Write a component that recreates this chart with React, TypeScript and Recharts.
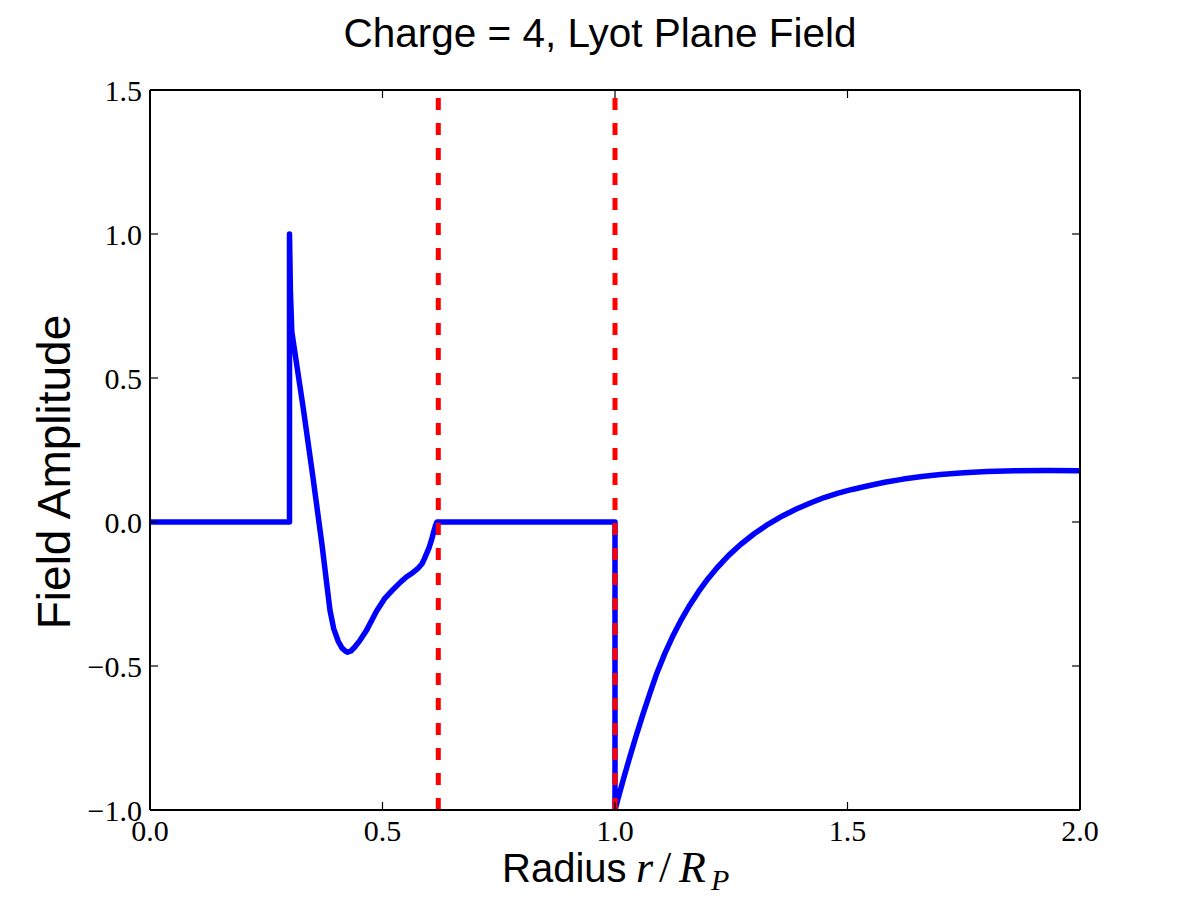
import React from 'react';
import { LineChart, Line, XAxis, YAxis, ReferenceLine } from 'recharts';

// Lyot plane field amplitude vs normalised radius (charge 4 vortex)
const radius = [
  0, 0.3, 0.3, 0.302, 0.305, 0.33, 0.35, 0.37, 0.387, 0.395, 0.405, 0.413, 0.42, 0.425,
  0.432, 0.44, 0.452, 0.465, 0.487, 0.505, 0.523, 0.54, 0.552, 0.565, 0.577, 0.585, 0.59,
  0.6, 0.605, 0.61, 0.614, 0.617,
  1.0, 1.0, 1.01, 1.02, 1.032, 1.045, 1.06, 1.075, 1.09, 1.107, 1.125, 1.143, 1.161, 1.18,
  1.2, 1.22, 1.245, 1.27, 1.3, 1.33, 1.36, 1.39, 1.42, 1.45, 1.48, 1.51, 1.545, 1.58, 1.62,
  1.66, 1.7, 1.75, 1.8, 1.86, 1.93, 2.0,
];
const field = [
  0, 0, 1.0, 0.8, 0.66, 0.39, 0.16, -0.08, -0.306, -0.37, -0.415, -0.438, -0.448, -0.452,
  -0.448, -0.435, -0.41, -0.378, -0.31, -0.265, -0.234, -0.207, -0.19, -0.176, -0.16, -0.145, -0.128,
  -0.09, -0.065, -0.035, -0.012, 0,
  0, -1.0, -0.94, -0.882, -0.815, -0.745, -0.668, -0.595, -0.525, -0.457, -0.394, -0.338, -0.288, -0.241,
  -0.197, -0.158, -0.115, -0.078, -0.04, -0.007, 0.021, 0.045, 0.066, 0.085, 0.1, 0.113, 0.126, 0.138, 0.149,
  0.158, 0.165, 0.171, 0.175, 0.178, 0.179, 0.178,
];

// dashed markers: Lyot stop inner edge and pupil edge
const stopEdges = [0.62, 1.0];

const xTicks = [0, 0.5, 1, 1.5, 2];
const yTicks = [-1, -0.5, 0, 0.5, 1, 1.5];

const data = radius.map((r, i) => ({ r, field: field[i] }));

const fmt = (v: number) => v.toFixed(1).replace('-', '\u2212');
const blank = () => '';

const tickFont = { fill: '#000', fontSize: 30, fontFamily: 'Liberation Serif' };
const frame = { stroke: '#000', strokeWidth: 2 };
const tickLine = { stroke: '#000', strokeWidth: 1.2 };

const xFrameProps = {
  dataKey: 'r',
  type: 'number' as const,
  domain: [0, 2],
  ticks: xTicks,
  interval: 0,
  allowDataOverflow: true,
  mirror: true,
  height: 20,
  tickSize: 8,
  tickFormatter: blank,
  axisLine: frame,
  tickLine,
};

const yFrameProps = {
  dataKey: 'field',
  type: 'number' as const,
  domain: [-1, 1.5],
  ticks: yTicks,
  interval: 0,
  allowDataOverflow: true,
  mirror: true,
  width: 20,
  tickSize: 8,
  tickFormatter: blank,
  axisLine: frame,
  tickLine,
};

export default function App() {
  return (
    <div style={{ position: 'absolute', left: 0, top: 0, width: 1200, height: 900, background: '#fff' }}>
      <LineChart width={1200} height={900} data={data} margin={{ top: 90, right: 120, bottom: 50, left: 90 }}>
        {/* label-only axes */}
        <XAxis
          xAxisId="bottom"
          dataKey="r"
          type="number"
          domain={[0, 2]}
          ticks={xTicks}
          interval={0}
          allowDataOverflow
          height={40}
          tickSize={0}
          tickMargin={10}
          tickFormatter={fmt}
          axisLine={false}
          tickLine={false}
          tick={tickFont}
        />
        <YAxis
          yAxisId="left"
          type="number"
          domain={[-1, 1.5]}
          ticks={yTicks}
          interval={0}
          allowDataOverflow
          width={60}
          tickSize={0}
          tickMargin={8}
          tickFormatter={fmt}
          axisLine={false}
          tickLine={false}
          tick={tickFont}
        />
        {/* mirrored axes: frame and inward ticks on all four sides */}
        <XAxis xAxisId="bottomFrame" orientation="bottom" {...xFrameProps} />
        <XAxis xAxisId="topFrame" orientation="top" {...xFrameProps} />
        <YAxis yAxisId="leftFrame" orientation="left" {...yFrameProps} />
        <YAxis yAxisId="rightFrame" orientation="right" {...yFrameProps} />
        <Line
          xAxisId="bottom"
          yAxisId="left"
          dataKey="field"
          type="linear"
          stroke="#0000ff"
          strokeWidth={5.5}
          strokeLinejoin="round"
          dot={false}
          activeDot={false}
          isAnimationActive={false}
        />
        {stopEdges.map((x) => (
          <ReferenceLine
            key={x}
            xAxisId="bottom"
            yAxisId="left"
            x={x}
            stroke="#ff0000"
            strokeWidth={5}
            strokeDasharray="12 13"
          />
        ))}
      </LineChart>
      <svg
        width={1200}
        height={900}
        style={{ position: 'absolute', left: 0, top: 0, pointerEvents: 'none' }}
      >
        <text x={600} y={47} textAnchor="middle" fontFamily="Liberation Sans" fontSize={40.5} fill="#000">
          Charge = 4, Lyot Plane Field
        </text>
        <text x={502} y={882} fontFamily="Liberation Sans" fontSize={40} fill="#000">
          Radius
          <tspan x={636} fontFamily="Liberation Serif" fontStyle="italic" fontSize={44}>r</tspan>
          <tspan x={659} fontFamily="Liberation Serif" fontSize={44}>/</tspan>
          <tspan x={679} fontFamily="Liberation Serif" fontStyle="italic" fontSize={44}>R</tspan>
          <tspan x={711} dy={8} fontFamily="Liberation Serif" fontStyle="italic" fontSize={30}>P</tspan>
        </text>
        <text
          transform="translate(70,472) rotate(-90)"
          textAnchor="middle"
          fontFamily="Liberation Sans"
          fontSize={46}
          fill="#000"
        >
          Field Amplitude
        </text>
      </svg>
    </div>
  );
}
